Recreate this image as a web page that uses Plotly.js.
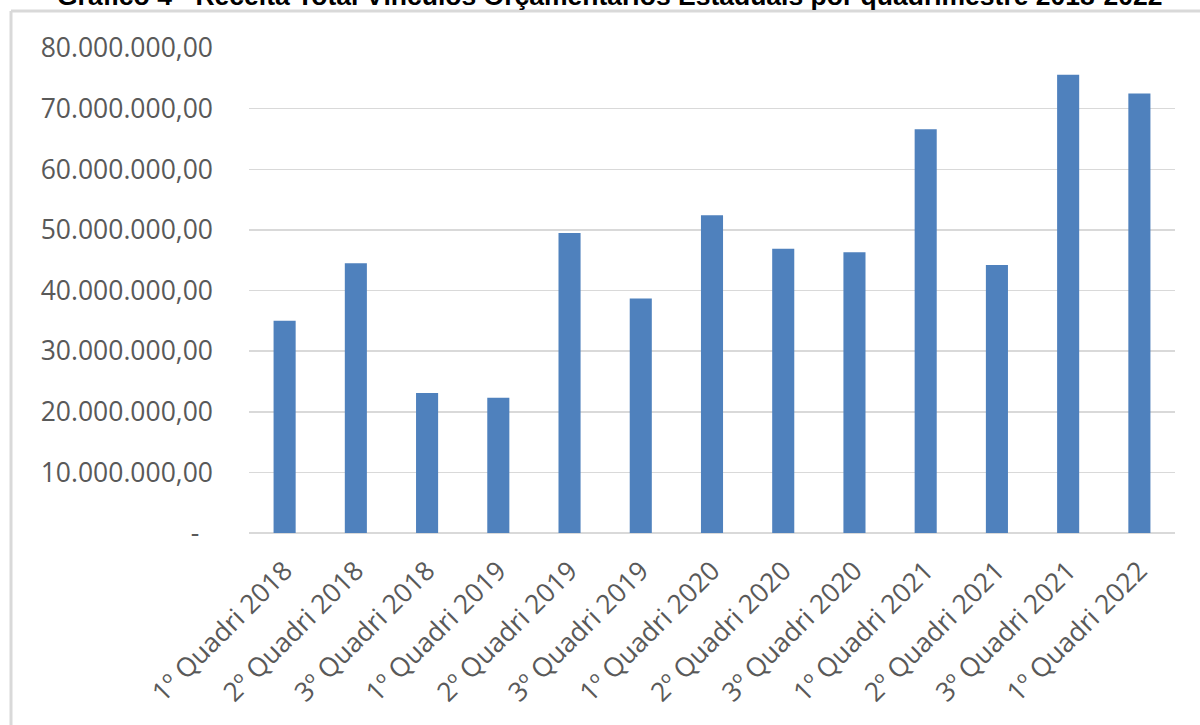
<!DOCTYPE html>
<html>
<head>
<meta charset="utf-8">
<script src="https://cdn.plot.ly/plotly-3.0.1.min.js"></script>
<style>html,body{margin:0;padding:0;background:#fff;}#chart{width:1200px;height:725px;}</style>
</head>
<body>
<div id="chart"></div>
<script>
const categories = ["1º Quadri 2018","2º Quadri 2018","3º Quadri 2018","1º Quadri 2019","2º Quadri 2019","3º Quadri 2019","1º Quadri 2020","2º Quadri 2020","3º Quadri 2020","1º Quadri 2021","2º Quadri 2021","3º Quadri 2021","1º Quadri 2022"];
const receita = [35000000, 44500000, 23100000, 22300000, 49500000, 38700000, 52400000, 46900000, 46300000, 66600000, 44200000, 75600000, 72500000];
const yTickVals = [0, 10000000, 20000000, 30000000, 40000000, 50000000, 60000000, 70000000, 80000000];
const yTickText = ["-\u00a0\u00a0", "10.000.000,00", "20.000.000,00", "30.000.000,00", "40.000.000,00", "50.000.000,00", "60.000.000,00", "70.000.000,00", "80.000.000,00"];
const titleText = "Gráfico 4 - Receita Total Vínculos Orçamentários Estaduais por quadrimestre 2018-2022";

const W = 1200, H = 725;
const mL = 249, mR = 25, mT = 48, mB = 192;
const pw = W - mL - mR, ph = H - mT - mB;
const px2x = p => (p - mL) / pw;
const py2y = p => (H - mB - p) / ph;

const trace = {
  type: 'bar',
  x: categories,
  y: receita,
  marker: {color: '#4f81bd', line: {width: 0}},
  hoverinfo: 'x+y'
};

const layout = {
  width: W, height: H,
  margin: {l: mL, r: mR, t: mT, b: mB, pad: 0},
  paper_bgcolor: '#ffffff',
  plot_bgcolor: '#ffffff',
  bargap: 0.69,
  showlegend: false,
  font: {family: '"Open Sans", "Noto Sans", sans-serif', color: '#595959', size: 26.5},
  xaxis: {
    type: 'category',
    tickangle: -45,
    showgrid: false,
    zeroline: false,
    showline: false,
    ticks: '',
    ticklabelstandoff: 16,
    tickfont: {size: 26.5, color: '#595959'},
    automargin: false
  },
  yaxis: {
    range: [0, 80000000],
    tickvals: yTickVals,
    ticktext: yTickText,
    showgrid: true,
    gridcolor: '#d9d9d9',
    gridwidth: 1.5,
    zeroline: true,
    zerolinecolor: '#d9d9d9',
    zerolinewidth: 1.5,
    showline: false,
    ticks: '',
    ticklabelstandoff: 35,
    tickfont: {size: 26.5, color: '#595959'},
    automargin: false
  },
  shapes: [
    {type: 'line', xref: 'paper', yref: 'paper', x0: px2x(11), x1: px2x(11), y0: py2y(11), y1: py2y(740), line: {color: '#d9d9d9', width: 3}},
    {type: 'line', xref: 'paper', yref: 'paper', x0: px2x(11), x1: px2x(1210), y0: py2y(11), y1: py2y(11), line: {color: '#d9d9d9', width: 3}}
  ],
  annotations: [{
    text: '<b>' + titleText + '</b>',
    xref: 'paper', yref: 'paper',
    x: px2x(610), y: py2y(-4),
    xanchor: 'center', yanchor: 'middle',
    showarrow: false,
    font: {family: '"Liberation Sans", Arial, sans-serif', size: 26.5, color: '#000000'}
  }]
};

Plotly.newPlot('chart', [trace], layout, {displayModeBar: false, staticPlot: true});
</script>
</body>
</html>
